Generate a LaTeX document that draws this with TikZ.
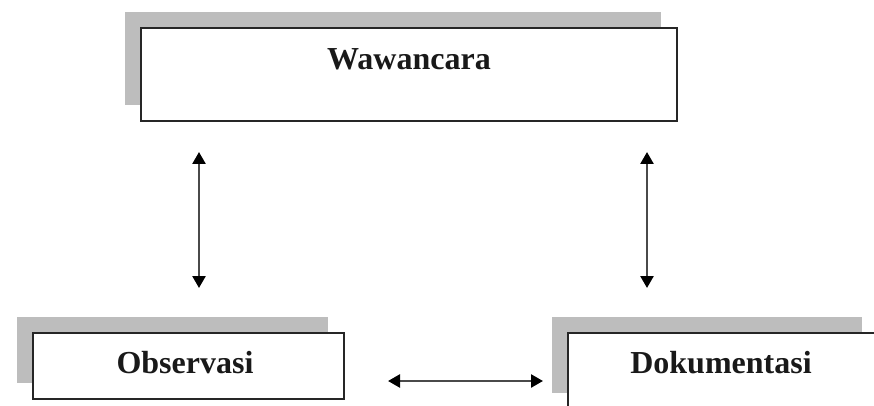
\documentclass[tikz,border=0pt]{standalone}
\usepackage{fontspec}
\setmainfont{Liberation Serif}
\usetikzlibrary{arrows.meta,shadows}
\definecolor{shadowgray}{HTML}{BDBDBD}
\definecolor{linegray}{HTML}{4A4A4A}
\tikzset{
  box/.style={draw=black!85, line width=2pt, fill=white, rectangle, inner sep=0pt,
    general shadow={fill=shadowgray, shadow xshift=-16pt, shadow yshift=16pt}},
  label text/.style={font=\bfseries\fontsize{32}{38}\selectfont, anchor=base, inner sep=0pt, text=black!90},
  biarrow/.style={draw=linegray, line width=2.5pt, {Triangle[length=12pt,width=13pt,color=black]}-{Triangle[length=12pt,width=13pt,color=black]}}
}
\begin{document}
\begin{tikzpicture}[x=1pt,y=-1pt]
  \useasboundingbox (0,0) rectangle (874,406);
  \clip (0,0) rectangle (874,406);
  % boxes (corner to corner)
  \node[box, minimum width=536pt, minimum height=93pt] (waw) at (409,74.5) {};
  \node[box, minimum width=311pt, minimum height=66pt] (obs) at (188.5,366) {};
  \node[box, minimum width=310pt, minimum height=76pt] (dok) at (723,371) {};
  % titles
  \node[label text] (wawt) at (409,70) {Wawancara};
  \node[label text] (obst) at (185,373) {Observasi};
  \node[label text] (dokt) at (721,373) {Dokumentasi};
  % arrow ends
  \coordinate (a1) at (199,152);
  \coordinate (a2) at (199,288);
  \coordinate (b1) at (647,152);
  \coordinate (b2) at (647,288);
  \coordinate (c1) at (388,381);
  \coordinate (c2) at (543,381);
  \draw[biarrow] (a1) -- (a2);
  \draw[biarrow] (b1) -- (b2);
  \draw[biarrow] (c1) -- (c2);
\end{tikzpicture}
\end{document}
